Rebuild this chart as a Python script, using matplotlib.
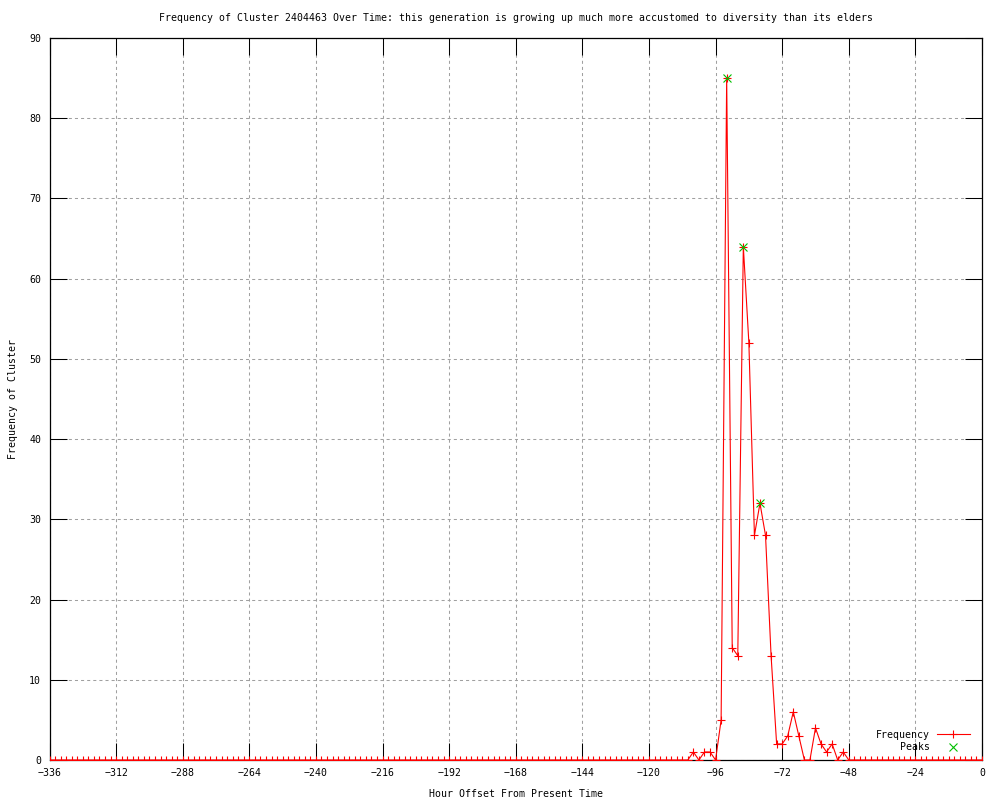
import matplotlib
matplotlib.use("Agg")
import matplotlib.pyplot as plt
from matplotlib.ticker import MultipleLocator

plt.rcParams['font.family'] = ['DejaVu Sans Mono']
plt.rcParams['lines.scale_dashes'] = False

title = "Frequency of Cluster 2404463 Over Time: this generation is growing up much more accustomed to diversity than its elders"
xlabel = "Hour Offset From Present Time"
ylabel = "Frequency of Cluster"

# Hour offsets, every 2 hours from -336 to 0
hours = list(range(-336, 1, 2))

freq = [
    0, 0, 0, 0, 0, 0, 0, 0, 0, 0, 0, 0, 0, 0, 0, 0, 0, 0, 0, 0,   # -336 .. -298
    0, 0, 0, 0, 0, 0, 0, 0, 0, 0, 0, 0, 0, 0, 0, 0, 0, 0, 0, 0,   # -296 .. -258
    0, 0, 0, 0, 0, 0, 0, 0, 0, 0, 0, 0, 0, 0, 0, 0, 0, 0, 0, 0,   # -256 .. -218
    0, 0, 0, 0, 0, 0, 0, 0, 0, 0, 0, 0, 0, 0, 0, 0, 0, 0, 0, 0,   # -216 .. -178
    0, 0, 0, 0, 0, 0, 0, 0, 0, 0, 0, 0, 0, 0, 0, 0, 0, 0, 0, 0,   # -176 .. -138
    0, 0, 0, 0, 0, 0, 0, 0, 0, 0, 0, 0, 0, 0, 0, 0,               # -136 .. -106
    1, 0, 1, 1, 0, 5, 85, 14, 13, 64, 52, 28, 32, 28, 13,          # -104 .. -76
    2, 2, 3, 6, 3, 0, 0, 4, 2, 1, 2, 0, 1, 0,                      # -74 .. -48
    0, 0, 0, 0, 0, 0, 0, 0, 0, 0, 0, 0, 0, 0, 0, 0, 0, 0, 0, 0,   # -46 .. -8
    0, 0, 0, 0,                                                    # -6 .. 0
]

peak_hours = [-92, -86, -80]
peak_values = [85, 64, 32]

fig = plt.figure(figsize=(10, 8), dpi=100)
ax = fig.add_axes([49.5 / 1000, 1 - 760 / 800, 932.5 / 1000, 722 / 800])

ax.plot(hours, freq, color='#ff0000', linewidth=0.8, marker='+',
        markersize=6, markeredgewidth=0.8, label='Frequency', zorder=3)
ax.plot(peak_hours, peak_values, linestyle='none', color='#00c000',
        marker='x', markersize=5.5, markeredgewidth=0.8, label='Peaks', zorder=4)

ax.set_xlim(-336, 0)
ax.set_ylim(0, 90)
ax.xaxis.set_major_locator(MultipleLocator(24))
ax.yaxis.set_major_locator(MultipleLocator(10))

fs = 7.15
ax.tick_params(direction='in', length=12, width=0.75, top=True, right=True,
               labelsize=fs, pad=6, colors='black')
for s in ax.spines.values():
    s.set_linewidth(0.9)
    s.set_color('black')

ax.grid(True, color='#a0a0a0', linestyle=(0, (2.2, 2.2)), linewidth=0.75)
ax.set_axisbelow(True)

ax.set_title(title, fontsize=fs, pad=12)
ax.set_xlabel(xlabel, fontsize=fs, labelpad=8)
ax.set_ylabel(ylabel, fontsize=fs, labelpad=8)

leg = ax.legend(loc='lower right', bbox_to_anchor=(0.987, 0.011),
                frameon=False, markerfirst=False, fontsize=fs,
                handlelength=3.3, handletextpad=0.7, labelspacing=0.25,
                borderpad=0, borderaxespad=0)

fig.savefig('out.png', dpi=100)
